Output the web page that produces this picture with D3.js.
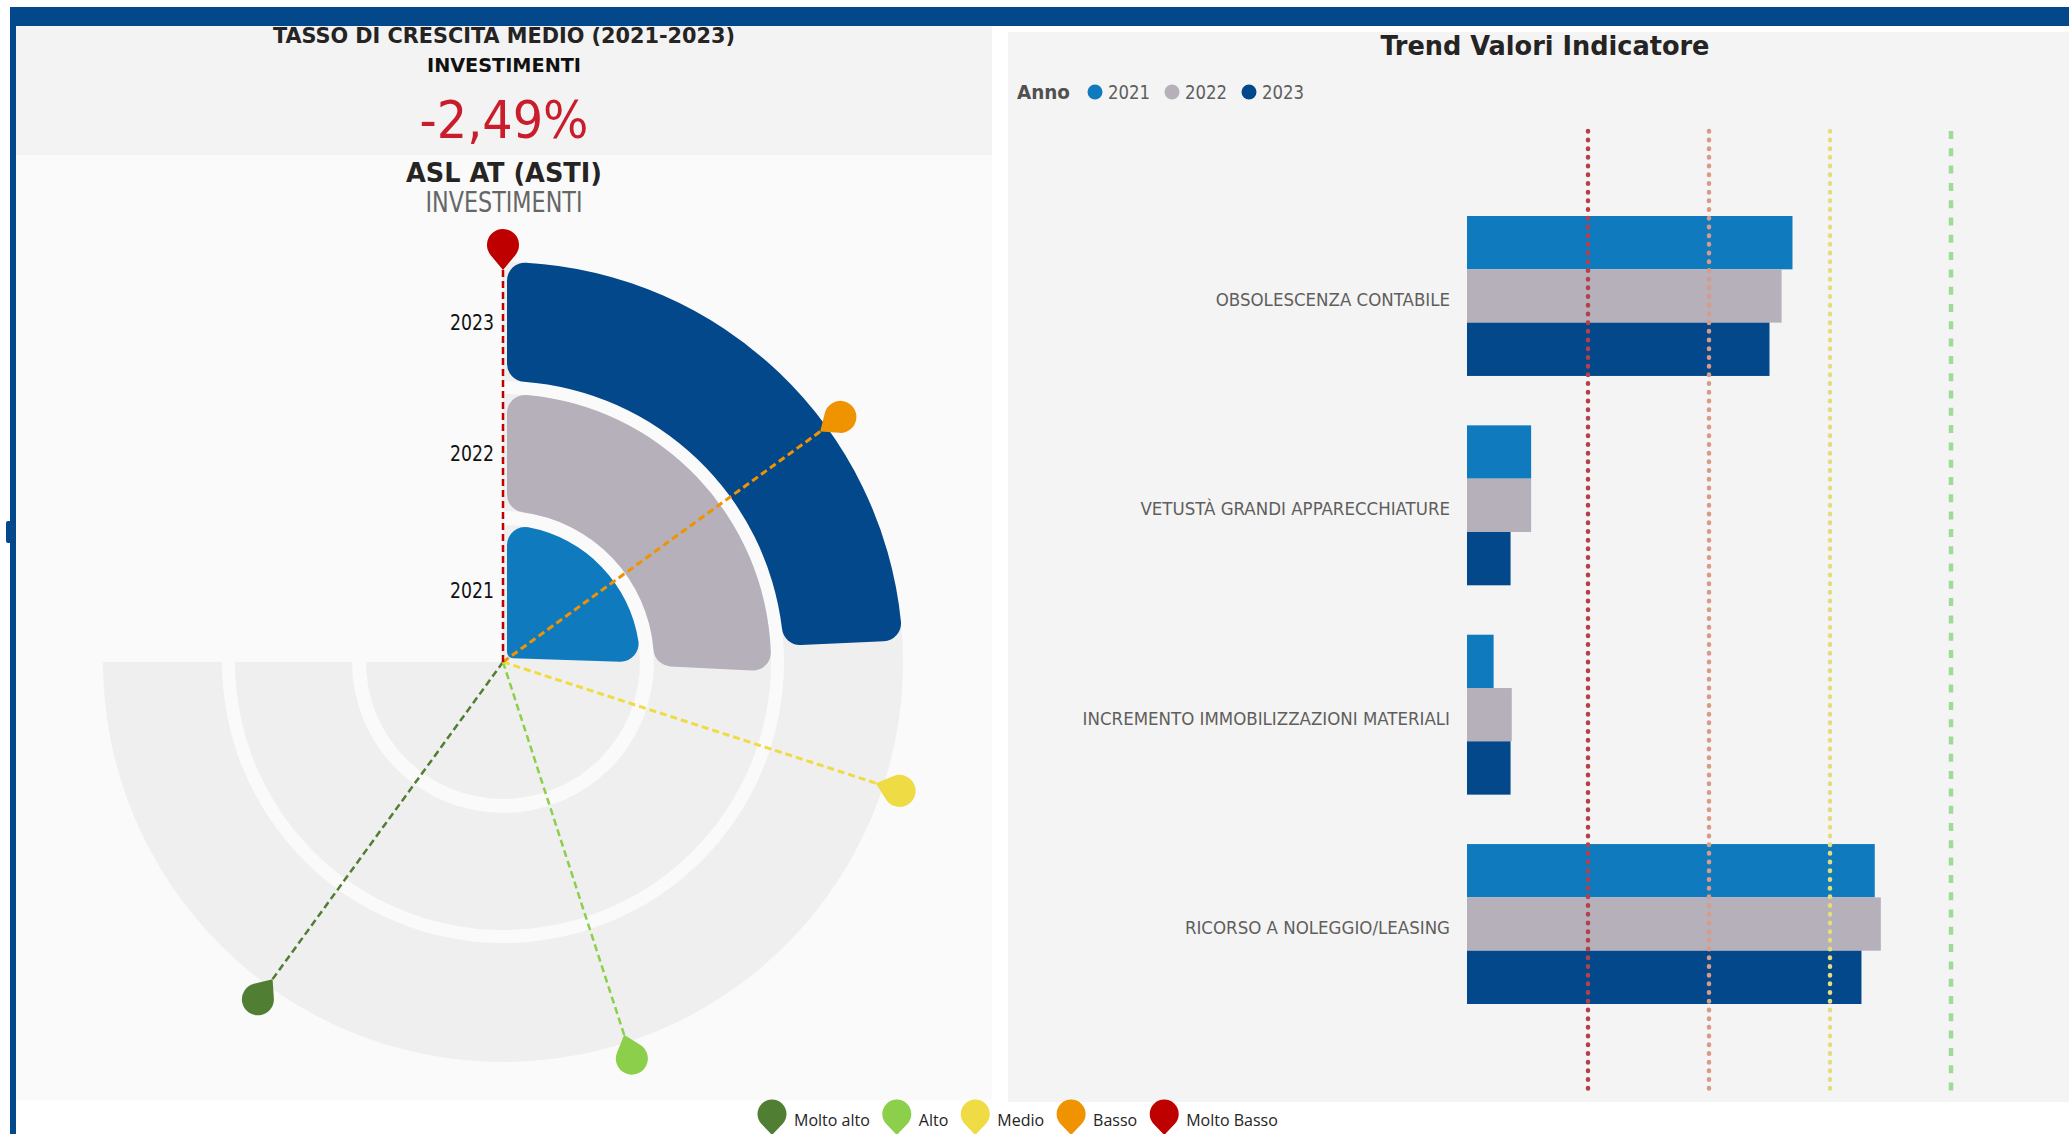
<!DOCTYPE html>
<html lang="it">
<head>
<meta charset="utf-8">
<title>Investimenti - ASL AT (ASTI)</title>
<style>
  body{margin:0;background:#fff;}
  svg{display:block;}
  .cond{font-family:'DejaVu Sans Condensed','Liberation Sans Narrow','Roboto Condensed',Roboto,sans-serif;}
  .leg{font-family:'Open Sans','Noto Sans',sans-serif;}
</style>
</head>
<body>
<div id="chart"></div>
<script src="https://d3js.org/d3.v7.min.js"></script>
<script>
// valori
const categories = [
  'OBSOLESCENZA CONTABILE',
  'VETUSTÀ GRANDI APPARECCHIATURE',
  'INCREMENTO IMMOBILIZZAZIONI MATERIALI',
  'RICORSO A NOLEGGIO/LEASING'
];
const years = ['2021', '2022', '2023'];
const values2021 = [2.69, 0.53, 0.22, 3.37];
const values2022 = [2.60, 0.53, 0.37, 3.42];
const values2023 = [2.50, 0.36, 0.36, 3.26];
const thresholds = [1, 2, 3, 4];

const radialValues = [1.70, 1.72, 1.62];   // 2021, 2022, 2023
const levels = ['Molto alto', 'Alto', 'Medio', 'Basso', 'Molto Basso'];
const levelValues = [4, 3, 2, 1, 0];
const growthLabel = '-2,49%';

// colori
const yearColor = {'2021': '#0f7bbe', '2022': '#b5b0ba', '2023': '#03488b'};
const levelColor = {'Molto alto': '#507e32', 'Alto': '#8ccf4b', 'Medio': '#efdb44', 'Basso': '#ef9300', 'Molto Basso': '#be0000'};
const thresholdStyle = [
  {color: '#b5404b', dash: '0.5,8.2', cap: 'round', width: 4.5},
  {color: '#d99a88', dash: '0.5,8.2', cap: 'round', width: 4.5},
  {color: '#e4dc7e', dash: '0.5,8.2', cap: 'round', width: 4.5},
  {color: '#9edb96', dash: '8,9.3', cap: 'butt', width: 4.5}
];

const W = 2069, H = 1134;
const svg = d3.select('#chart').append('svg').attr('width', W).attr('height', H);

// pannelli
svg.append('rect').attr('x', 16).attr('y', 26).attr('width', 976).attr('height', 129).attr('fill', '#f3f3f3');
svg.append('rect').attr('x', 16).attr('y', 155).attr('width', 976).attr('height', 945).attr('fill', '#fafafa');
svg.append('rect').attr('x', 1008).attr('y', 32).attr('width', 1061).attr('height', 1070).attr('fill', '#f4f4f4');

// intestazione sinistra
const head = svg.append('g').attr('class', 'cond').attr('text-anchor', 'middle');
function headText(txt, y, size, weight, fill, len){
  head.append('text').attr('x', 504).attr('y', y).attr('font-size', size)
    .attr('font-weight', weight).attr('fill', fill)
    .attr('textLength', len).attr('lengthAdjust', 'spacingAndGlyphs').text(txt);
}
headText('TASSO DI CRESCITA MEDIO (2021-2023)', 43, 22, 'bold', '#252423', 462);
headText('INVESTIMENTI', 72, 20, 'bold', '#111', 154);
headText(growthLabel, 138, 52, 'normal', '#c91d2b', 169);
headText('ASL AT (ASTI)', 182, 27, 'bold', '#252423', 196);
headText('INVESTIMENTI', 212, 28, 'normal', '#666', 157);

// ---- grafico radiale ----
const cx = 503, cy = 662;
const angle = d3.scaleLinear().domain([0, 5]).range([0, 1.5 * Math.PI]);
const ringR = {'2021': [8, 137], '2022': [151, 268], '2023': [281, 400]};
const radial = svg.append('g').attr('transform', 'translate(' + cx + ',' + cy + ')');

// tracce di sfondo
radial.selectAll('path.track').data(years).enter().append('path')
  .attr('class', 'track')
  .attr('fill', '#efefef')
  .attr('d', function(y){
    return d3.arc()({innerRadius: y === '2021' ? 0 : ringR[y][0], outerRadius: ringR[y][1], startAngle: 0, endAngle: angle(5)});
  });

// barre
radial.selectAll('path.bar').data(years).enter().append('path')
  .attr('class', 'bar')
  .attr('fill', function(y){ return yearColor[y]; })
  .attr('d', function(y, i){
    return d3.arc().cornerRadius(18).padRadius(100).padAngle(0.08)({
      innerRadius: ringR[y][0], outerRadius: ringR[y][1],
      startAngle: angle(0), endAngle: angle(radialValues[i])
    });
  });

// etichette anni
radial.selectAll('text.yr').data(years).enter().append('text')
  .attr('class', 'yr cond')
  .attr('x', -9)
  .attr('y', function(y){ return -(ringR[y][0] + ringR[y][1]) / 2 + 8; })
  .attr('text-anchor', 'end')
  .attr('font-size', 21)
  .attr('fill', '#111')
  .attr('textLength', 44).attr('lengthAdjust', 'spacingAndGlyphs')
  .text(function(y){ return y; });

function pinPath(r, L){
  const ty = -L + r * r / L;
  const tx = r * Math.sqrt(1 - (r / L) * (r / L));
  return 'M0,0L' + (-tx) + ',' + ty + 'A' + r + ',' + r + ' 0 1 1 ' + tx + ',' + ty + 'Z';
}

const tipR = 392;
function polar(r, a){ return [r * Math.sin(a), -r * Math.cos(a)]; }

// linee soglia
radial.selectAll('line.lvl').data(levels).enter().append('line')
  .attr('class', 'lvl')
  .attr('x1', 0).attr('y1', 0)
  .attr('x2', function(d, i){ return polar(tipR, angle(levelValues[i]))[0]; })
  .attr('y2', function(d, i){ return polar(tipR, angle(levelValues[i]))[1]; })
  .attr('stroke', function(d){ return levelColor[d]; })
  .attr('stroke-width', function(d){ return d === 'Medio' || d === 'Basso' ? 3 : 2.5; })
  .attr('stroke-dasharray', '7,4');

// segnaposti
radial.selectAll('path.pin').data(levels).enter().append('path')
  .attr('class', 'pin')
  .attr('d', pinPath(16, 25))
  .attr('fill', function(d){ return levelColor[d]; })
  .attr('transform', function(d, i){
    const a = angle(levelValues[i]);
    const p = polar(tipR, a);
    return 'translate(' + p[0] + ',' + p[1] + ') rotate(' + (a * 180 / Math.PI) + ')';
  });

// legenda in basso
const legB = svg.append('g').attr('class', 'leg');
let cur = 772;
levels.forEach(function(l){
  legB.append('path').attr('d', pinPath(14.5, 21)).attr('fill', levelColor[l])
    .attr('transform', 'translate(' + cur + ',1135)');
  const t = legB.append('text').attr('x', cur + 22).attr('y', 1126)
    .attr('font-size', 16).attr('fill', '#252423').text(l);
  cur = cur + 22 + t.node().getComputedTextLength() + 27;
});

// ---- grafico a barre ----
const allValues = {'2021': values2021, '2022': values2022, '2023': values2023};
const y0 = d3.scaleBand().domain(categories).range([216, 1004]).paddingInner(0.236);
const y1 = d3.scaleBand().domain(years).range([0, y0.bandwidth()]);
const x = d3.scaleLinear().domain([0, 4]).range([1467, 1951]);

svg.append('text').attr('class', 'cond').attr('x', 1545).attr('y', 55)
  .attr('text-anchor', 'middle').attr('font-size', 27).attr('font-weight', 'bold')
  .attr('fill', '#252423').attr('textLength', 329).attr('lengthAdjust', 'spacingAndGlyphs')
  .text('Trend Valori Indicatore');

// legenda anni
const legA = svg.append('g').attr('class', 'cond');
legA.append('text').attr('x', 1017).attr('y', 99).attr('font-size', 19).attr('font-weight', 'bold')
  .attr('fill', '#505050').attr('textLength', 53).attr('lengthAdjust', 'spacingAndGlyphs').text('Anno');
let ax = 1095;
years.forEach(function(yr){
  legA.append('circle').attr('cx', ax).attr('cy', 92).attr('r', 7.5).attr('fill', yearColor[yr]);
  legA.append('text').attr('x', ax + 13).attr('y', 99).attr('font-size', 19).attr('fill', '#605e5c')
    .attr('textLength', 42).attr('lengthAdjust', 'spacingAndGlyphs').text(yr);
  ax += 77;
});

const groups = svg.append('g').selectAll('g').data(categories).enter().append('g')
  .attr('transform', function(c){ return 'translate(0,' + y0(c) + ')'; });

groups.selectAll('rect').data(function(c, ci){
    return years.map(function(yr){ return {year: yr, value: allValues[yr][ci]}; });
  }).enter().append('rect')
  .attr('x', x(0))
  .attr('y', function(d){ return y1(d.year); })
  .attr('width', function(d){ return x(d.value) - x(0); })
  .attr('height', y1.bandwidth())
  .attr('fill', function(d){ return yearColor[d.year]; });

groups.append('text').attr('class', 'cond')
  .attr('x', x(0) - 17)
  .attr('y', y0.bandwidth() / 2 + 10)
  .attr('text-anchor', 'end')
  .attr('font-size', 18.5)
  .attr('fill', '#605e5c')
  .text(function(c){ return c; });

// linee di riferimento
svg.append('g').selectAll('line').data(thresholds).enter().append('line')
  .attr('x1', function(d){ return x(d); }).attr('x2', function(d){ return x(d); })
  .attr('y1', 131).attr('y2', 1092)
  .attr('stroke', function(d, i){ return thresholdStyle[i].color; })
  .attr('stroke-width', function(d, i){ return thresholdStyle[i].width; })
  .attr('stroke-linecap', function(d, i){ return thresholdStyle[i].cap; })
  .attr('stroke-dasharray', function(d, i){ return thresholdStyle[i].dash; });

// barra blu superiore e bordo
svg.append('rect').attr('x', 10).attr('y', 7).attr('width', W - 10).attr('height', 19).attr('fill', '#03488b');
svg.append('rect').attr('x', 10).attr('y', 7).attr('width', 6).attr('height', H - 7).attr('fill', '#03488b');
svg.append('rect').attr('x', 6).attr('y', 521).attr('width', 6).attr('height', 22).attr('rx', 2).attr('fill', '#03488b');
</script>
</body>
</html>
